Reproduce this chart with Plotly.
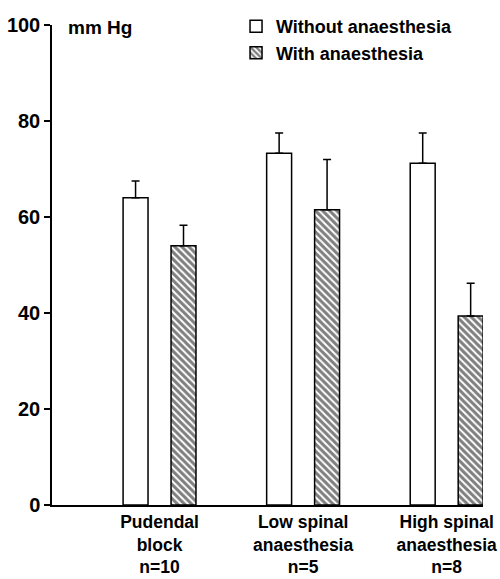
import plotly.graph_objects as go

categories = ["Pudendal<br>block<br>n=10", "Low spinal<br>anaesthesia<br>n=5", "High spinal<br>anaesthesia<br>n=8"]
without_vals = [64.0, 73.3, 71.2]
without_err = [3.5, 4.2, 6.3]
with_vals = [54.0, 61.5, 39.4]
with_err = [4.3, 10.5, 6.8]
y_ticks = [0, 20, 40, 60, 80, 100]

FONT = "Liberation Sans"
xcat = [0, 1, 2]

fig = go.Figure()
fig.add_trace(go.Bar(
    x=xcat, y=without_vals, name="Without anaesthesia",
    marker=dict(color="white", line=dict(color="black", width=1.5)),
    error_y=dict(type="data", array=without_err, arrayminus=[0]*3, symmetric=False,
                 color="black", thickness=1.5, width=4),
))
fig.add_trace(go.Bar(
    x=xcat, y=with_vals, name="With anaesthesia",
    marker=dict(color="white", line=dict(color="black", width=1.5),
                pattern=dict(shape="\\", fgcolor="black", bgcolor="white", size=5, solidity=0.6)),
    error_y=dict(type="data", array=with_err, arrayminus=[0]*3, symmetric=False,
                 color="black", thickness=1.5, width=4),
))

fig.update_layout(
    width=500, height=579,
    margin=dict(l=52, r=17, t=25, b=74, autoexpand=False),
    paper_bgcolor="white", plot_bgcolor="white",
    barmode="group", bargap=0.332, bargroupgap=0.48,
    showlegend=True,
    legend=dict(x=0.427, y=0.986, xanchor="left", yanchor="top", yref="container",
                font=dict(family=FONT, size=18, color="black", weight="bold"),
                bgcolor="rgba(0,0,0,0)", tracegroupgap=0, itemwidth=30),
    font=dict(family=FONT, color="black"),
)
fig.update_xaxes(
    range=[-0.749, 2.253], tickmode="array", tickvals=xcat, ticktext=categories,
    showline=True, linecolor="black", linewidth=1.5, showgrid=False, zeroline=False,
    ticks="", automargin=False, ticklabeloverflow="allow",
    tickfont=dict(family=FONT, size=17.5, color="black", weight="bold"),
)
fig.update_yaxes(
    range=[0, 100], tickvals=y_ticks, showline=True, linecolor="black", linewidth=1.5,
    showgrid=False, zeroline=False, ticks="outside", ticklen=6, tickwidth=1.5, tickcolor="black",
    automargin=False, ticklabeloverflow="allow",
    tickfont=dict(family=FONT, size=20, color="black", weight="bold"),
)
fig.add_annotation(text="mm Hg", xref="paper", yref="paper", x=0.033, y=0.994,
                   xanchor="left", yanchor="middle", showarrow=False,
                   font=dict(family=FONT, size=19, color="black", weight="bold"))

fig.write_html("out.html", config={"displayModeBar": False},
               post_script="document.body.style.margin='0px';")
